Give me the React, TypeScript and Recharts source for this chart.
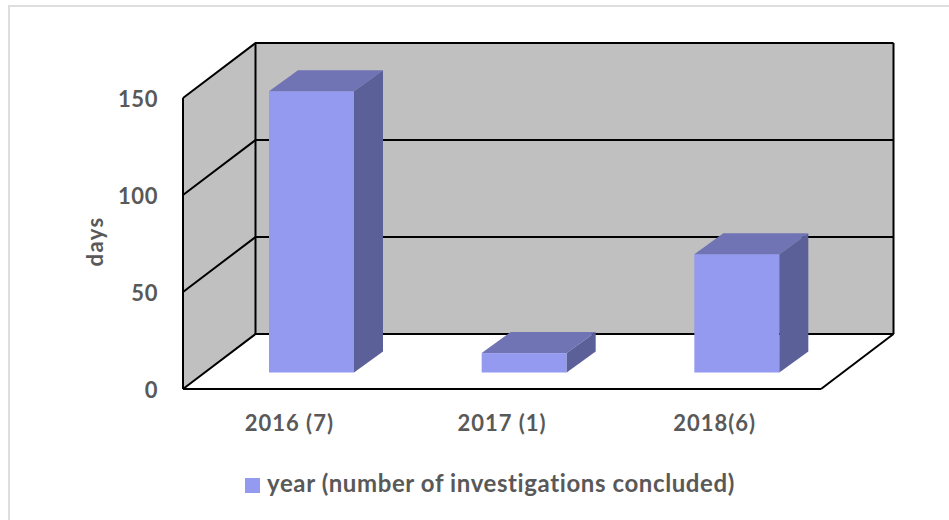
import React from 'react';
import { BarChart, Bar, XAxis, YAxis, Legend, ReferenceArea } from 'recharts';

const years = ['2016 (7)', '2017 (1)', '2018(6)'];
const days = [145, 10, 61];
const yTicks = [0, 50, 100, 150];
const seriesName = 'year (number of investigations concluded)';

const data = years.map((year, i) => ({ year, days: days[i] }));

const TEXT = '#595959';
const FONT = 'Lato, sans-serif';
const tickStyle = { fill: TEXT, fontSize: 22, fontWeight: 700, fontFamily: FONT };

// fake 3D: how far the back wall sits from the front plane
const WALL_DX = 72.5;
const WALL_DY = -55;
// bars stand part way into the floor
const BAR_DX = 22;
const BAR_DY = -16.5;
const BAR_DEPTH_X = 29;
const BAR_DEPTH_Y = -21;

const pts = (list: number[][]) => list.map(p => p.join(',')).join(' ');

const Walls = ({ x, y, width, height }: any) => {
    const left = x;
    const right = x + width;
    const top = y;
    const bottom = y + height;
    const ln = { stroke: '#000', strokeWidth: 2 };
    return (
        <g>
            <polygon points={pts([[left, top], [left + WALL_DX, top + WALL_DY], [left + WALL_DX, bottom + WALL_DY], [left, bottom]])} fill="#c0c0c0" />
            <rect x={left + WALL_DX} y={top + WALL_DY} width={width} height={height} fill="#c0c0c0" />
            <line x1={left} y1={top} x2={left} y2={bottom} {...ln} />
            <line x1={left + WALL_DX} y1={top + WALL_DY} x2={left + WALL_DX} y2={bottom + WALL_DY} {...ln} />
            <line x1={right + WALL_DX} y1={top + WALL_DY} x2={right + WALL_DX} y2={bottom + WALL_DY} {...ln} />
            <line x1={left} y1={bottom} x2={right} y2={bottom} {...ln} />
            <line x1={right} y1={bottom} x2={right + WALL_DX} y2={bottom + WALL_DY} {...ln} />
        </g>
    );
};

// one grid line bent round the corner: side wall, then back wall
const WallGridLine = ({ x, y, width }: any) => (
    <polyline
        points={pts([[x, y], [x + WALL_DX, y + WALL_DY], [x + width + WALL_DX, y + WALL_DY]])}
        fill="none"
        stroke="#000"
        strokeWidth={2}
    />
);

const Bar3D = ({ x, y, width, height }: any) => {
    const l = x + BAR_DX;
    const r = l + width;
    const t = y + BAR_DY;
    const b = y + height + BAR_DY;
    return (
        <g>
            <rect x={l} y={t} width={width} height={height} fill="#949aef" />
            <polygon points={pts([[l, t], [l + BAR_DEPTH_X, t + BAR_DEPTH_Y], [r + BAR_DEPTH_X, t + BAR_DEPTH_Y], [r, t]])} fill="#7074b4" />
            <polygon points={pts([[r, t], [r + BAR_DEPTH_X, t + BAR_DEPTH_Y], [r + BAR_DEPTH_X, b + BAR_DEPTH_Y], [r, b]])} fill="#5c6099" />
        </g>
    );
};

export default function App() {
    return (
        <div style={{ position: 'absolute', left: 0, top: 0, width: 949, height: 520, background: '#fff', overflow: 'hidden' }}>
            {/* picture frame, only top and left show */}
            <div style={{ position: 'absolute', left: 8, top: 5, right: -4, bottom: -4, borderLeft: '2px solid #dedede', borderTop: '2px solid #dedede' }} />
            <BarChart
                width={949}
                height={520}
                data={data}
                margin={{ top: 98, right: 128, bottom: 51, left: 93 }}
                style={{ position: 'absolute', left: 0, top: 0 }}
            >
                <XAxis
                    dataKey="year"
                    axisLine={false}
                    tickLine={false}
                    height={50}
                    tickMargin={20}
                    tick={{ ...tickStyle, letterSpacing: 1 }}
                />
                <YAxis
                    type="number"
                    domain={[0, 150]}
                    ticks={yTicks}
                    axisLine={false}
                    tickLine={false}
                    width={90}
                    tickMargin={19}
                    tick={{ ...tickStyle, letterSpacing: 0.6, dy: 1 }}
                    label={{ value: 'days', angle: -90, position: 'insideLeft', offset: 2, dy: -2, style: { ...tickStyle, letterSpacing: 1.4, textAnchor: 'middle' } }}
                />
                <ReferenceArea y1={0} y2={150} shape={<Walls />} />
                {yTicks.map(t => (
                    <ReferenceArea key={t} y1={t} y2={t} shape={<WallGridLine />} />
                ))}
                <Bar dataKey="days" name={seriesName} fill="#949aef" barSize={85} shape={<Bar3D />} isAnimationActive={false} />
                <Legend
                    verticalAlign="bottom"
                    height={30}
                    iconType="square"
                    iconSize={15}
                    wrapperStyle={{ bottom: 22, left: 131, fontFamily: FONT, fontSize: 24, fontWeight: 700 }}
                    formatter={(value: string) => <span style={{ color: TEXT, marginLeft: 3, letterSpacing: 0.6 }}>{value}</span>}
                />
            </BarChart>
        </div>
    );
}
